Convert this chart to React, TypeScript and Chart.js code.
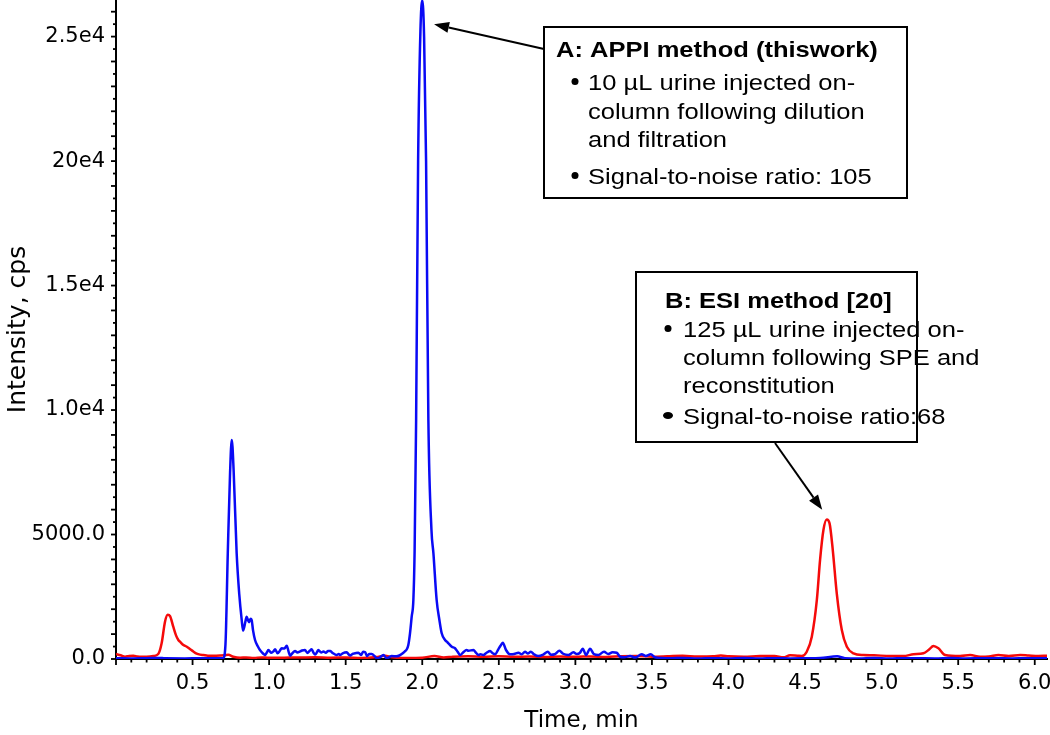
import React, { useEffect, useRef } from "react";
import { Chart, registerables } from "chart.js";

Chart.register(...registerables);

// ---- Data ----
const blueTime = [
  0.0, 0.1, 0.2, 0.28, 0.32, 0.45, 0.55, 0.65, 0.7, 0.715, 0.73, 0.745, 0.756, 0.768, 0.788, 0.805,
  0.821, 0.83, 0.845, 0.853, 0.862, 0.869, 0.879, 0.886, 0.895, 0.908, 0.925, 0.94, 0.96, 0.973,
  0.985, 0.995, 1.015, 1.03, 1.039, 1.055, 1.07, 1.082, 1.1, 1.115, 1.127, 1.137, 1.152, 1.169,
  1.185, 1.2, 1.215, 1.234, 1.25, 1.265, 1.278, 1.29, 1.3, 1.315, 1.321, 1.34, 1.355, 1.37, 1.385,
  1.398, 1.415, 1.441, 1.455, 1.463, 1.48, 1.507, 1.52, 1.53, 1.545, 1.561, 1.583, 1.6, 1.615,
  1.626, 1.64, 1.655, 1.67, 1.69, 1.703, 1.724, 1.746, 1.768, 1.79, 1.8, 1.83, 1.85, 1.866, 1.885,
  1.899, 1.909, 1.92, 1.931, 1.942, 1.95, 1.96, 1.973, 1.988, 2.0, 2.012, 2.025, 2.04, 2.06, 2.073,
  2.094, 2.112, 2.127, 2.149, 2.16, 2.171, 2.193, 2.214, 2.23, 2.247, 2.265, 2.29, 2.301, 2.334,
  2.35, 2.367, 2.38, 2.399, 2.42, 2.443, 2.46, 2.476, 2.497, 2.51, 2.526, 2.547, 2.573, 2.6, 2.628,
  2.65, 2.671, 2.69, 2.709, 2.73, 2.758, 2.79, 2.82, 2.84, 2.865, 2.896, 2.92, 2.954, 2.987, 3.01,
  3.03, 3.048, 3.07, 3.096, 3.12, 3.15, 3.187, 3.215, 3.243, 3.27, 3.292, 3.32, 3.357, 3.39, 3.433,
  3.46, 3.492, 3.52, 3.56, 3.62, 3.7, 3.8, 3.9, 4.0, 4.1, 4.2, 4.3, 4.4, 4.5, 4.6, 4.71, 4.76, 4.85,
  4.95, 5.05, 5.15, 5.25, 5.35, 5.45, 5.55, 5.65, 5.75, 5.85, 5.95, 6.08,
];
const blueIntensity = [
  30, 25, 35, 45, 30, 25, 35, 30, 40, 600, 4245, 7500, 8800, 7600, 4245, 2600,
  1566, 1140, 1500, 1700, 1560, 1480, 1620, 1566, 1150, 763, 520, 361, 220, 160,
  260, 361, 250, 320, 390, 230, 330, 430, 420, 534, 300, 133, 230, 321,
  260, 293, 340, 361, 240, 330, 390, 250, 180, 300, 361, 260, 300, 250, 320,
  321, 240, 160, 200, 160, 230, 269, 180, 140, 210, 229, 253, 160, 293,
  281, 120, 200, 200, 110, 28, 68, 160, 28, 92, 120, 110, 140, 200, 300,
  390, 562, 1032, 1700, 2370, 4300, 9600, 20000, 25200, 26450, 25000, 20000, 9600, 5200, 4245,
  2370, 1566, 1032, 763, 695, 630, 494, 430, 300, 160, 250, 361, 333, 361,
  260, 160, 189, 160, 250, 321, 230, 189, 390, 520, 655, 361, 189, 200, 253,
  190, 293, 220, 293, 190, 120, 180, 293, 170, 190, 333, 210, 160, 269, 200,
  250, 414, 160, 414, 200, 160, 293, 200, 269, 250, 92, 70, 120, 60, 189,
  120, 189, 68, 40, 30, 45, 20, 35, 25, 40, 20, 35, 25, 30, 40, 110, 35, 25,
  40, 20, 35, 30, 25, 40, 20, 30, 35, 25, 30, 30,
];

const redTime = [
  0.0, 0.03, 0.059, 0.085, 0.113, 0.14, 0.17, 0.2, 0.244, 0.276, 0.298, 0.32, 0.338, 0.353, 0.374,
  0.392, 0.407, 0.418, 0.44, 0.46, 0.483, 0.505, 0.527, 0.55, 0.57, 0.6, 0.636, 0.68, 0.71, 0.733,
  0.766, 0.81, 0.85, 0.9, 0.95, 1.0, 1.1, 1.2, 1.3, 1.4, 1.5, 1.6, 1.7, 1.757, 1.8, 1.9, 2.0, 2.08,
  2.14, 2.2, 2.3, 2.4, 2.5, 2.6, 2.7, 2.8, 2.9, 3.0, 3.1, 3.2, 3.3, 3.4, 3.5, 3.6, 3.7, 3.8, 3.9,
  3.95, 4.0, 4.1, 4.206, 4.3, 4.359, 4.402, 4.45, 4.479, 4.511, 4.544, 4.577, 4.598, 4.62, 4.642,
  4.66, 4.681, 4.707, 4.74, 4.773, 4.816, 4.881, 4.95, 5.055, 5.142, 5.208, 5.273, 5.31, 5.338,
  5.371, 5.415, 5.512, 5.578, 5.643, 5.7, 5.763, 5.83, 5.905, 5.96, 6.024, 6.08,
];
const redIntensity = [
  200, 150, 92, 120, 133, 100, 90, 92, 120, 200, 630, 1500, 1780, 1727, 1297,
  950, 763, 695, 562, 500, 400, 300, 215, 175, 160, 135, 133, 140, 150, 170,
  92, 52, 60, 45, 65, 50, 55, 60, 70, 55, 60, 45, 80, 133, 70, 40, 50, 120,
  60, 90, 110, 95, 110, 90, 100, 85, 100, 90, 105, 85, 110, 120, 95, 110, 130, 100, 110,
  140, 110, 90, 120, 120, 68, 148, 130, 120, 293, 896, 2370, 3980, 5180, 5600,
  5448, 4378, 2640, 1165, 494, 229, 160, 150, 120, 120, 189, 229, 380, 522,
  430, 160, 120, 160, 92, 100, 160, 120, 160, 140, 120, 130,
];

const xTickValues = [0.5, 1.0, 1.5, 2.0, 2.5, 3.0, 3.5, 4.0, 4.5, 5.0, 5.5, 6.0];
const yTickValues = [0, 5000, 10000, 15000, 20000, 25000];
const yTickLabels = ["0.0", "5000.0", "1.0e4", "1.5e4", "20e4", "2.5e4"];
const xTitle = "Time, min";
const yTitle = "Intensity, cps";

const boxATitle = "A: APPI method (thiswork)";
const boxABullets = [
  ["10 µL urine injected on-", "column following dilution", "and filtration"],
  ["Signal-to-noise ratio: 105"],
];
const boxBTitle = "B: ESI method [20]";
const boxBBullets = [
  ["125 µL urine injected on-", "column following SPE and", "reconstitution"],
  ["Signal-to-noise ratio:68"],
];

const TEXT_FONT = '"Liberation Sans", Arial, sans-serif';
const TEXT_STRETCH = 1.16;

function drawStretched(ctx: CanvasRenderingContext2D, text: string, x: number, y: number) {
  ctx.save();
  ctx.translate(x, y);
  ctx.scale(TEXT_STRETCH, 1);
  ctx.fillText(text, 0, 0);
  ctx.restore();
}

function drawArrow(ctx: CanvasRenderingContext2D, x1: number, y1: number, x2: number, y2: number) {
  const ang = Math.atan2(y2 - y1, x2 - x1);
  const len = 15;
  const hw = 5.5;
  const bx = x2 - len * Math.cos(ang);
  const by = y2 - len * Math.sin(ang);
  ctx.beginPath();
  ctx.moveTo(x1, y1);
  ctx.lineTo(bx, by);
  ctx.stroke();
  ctx.beginPath();
  ctx.moveTo(x2, y2);
  ctx.lineTo(bx - hw * Math.sin(ang), by + hw * Math.cos(ang));
  ctx.lineTo(bx + hw * Math.sin(ang), by - hw * Math.cos(ang));
  ctx.closePath();
  ctx.fill();
}

export default function App() {
  const ref = useRef<HTMLCanvasElement>(null);

  useEffect(() => {
    document.body.style.margin = "0";
    const canvas = ref.current!;
    const ctx = canvas.getContext("2d")!;

    const tickPlugin = {
      id: "minorTicks",
      afterDraw(chart: any) {
        const c = chart.ctx as CanvasRenderingContext2D;
        const xs = chart.scales.x;
        const ys = chart.scales.y;
        const { left, right, bottom } = chart.chartArea;
        c.save();
        c.strokeStyle = "#000";
        c.lineWidth = 1.8;
        for (let i = 0; i <= 61; i++) {
          const px = xs.getPixelForValue(i / 10);
          if (px > right + 0.5) break;
          const l = i % 5 === 0 ? 6 : 3.5;
          c.beginPath();
          c.moveTo(px, bottom);
          c.lineTo(px, bottom + l);
          c.stroke();
        }
        for (let i = 0; i <= 60; i++) {
          const v = i * 500;
          if (v > ys.max) break;
          const py = ys.getPixelForValue(v);
          const l = i % 2 === 0 ? 5 : 3;
          c.beginPath();
          c.moveTo(left - l, py);
          c.lineTo(left, py);
          c.stroke();
        }
        c.restore();
      },
    };

    const annotPlugin = {
      id: "annotations",
      afterDraw(chart: any) {
        const c = chart.ctx as CanvasRenderingContext2D;
        const xs = chart.scales.x;
        const ys = chart.scales.y;
        c.save();
        c.strokeStyle = "#000";
        c.fillStyle = "#000";
        c.lineWidth = 2;

        // Box A
        c.fillStyle = "#fff";
        c.fillRect(544, 27, 363, 171);
        c.fillStyle = "#000";
        c.strokeRect(544, 27, 363, 171);
        c.textBaseline = "alphabetic";
        c.textAlign = "left";
        c.font = `bold 22px ${TEXT_FONT}`;
        drawStretched(c, boxATitle, 556, 57);
        c.font = `22px ${TEXT_FONT}`;
        const aBase = [[89.5, 118.5, 147], [183.5]];
        boxABullets.forEach((lines, bi) => {
          c.beginPath();
          c.arc(575, aBase[bi][0] - 8, 3.5, 0, Math.PI * 2);
          c.fill();
          lines.forEach((t, li) => drawStretched(c, t, 588, aBase[bi][li]));
        });

        // Box B
        c.fillStyle = "#fff";
        c.fillRect(636, 272, 281, 170);
        c.fillStyle = "#000";
        c.strokeRect(636, 272, 281, 170);
        c.font = `bold 22px ${TEXT_FONT}`;
        drawStretched(c, boxBTitle, 665, 307.5);
        c.font = `22px ${TEXT_FONT}`;
        const bBase = [[336.5, 365, 392.5], [423.5]];
        boxBBullets.forEach((lines, bi) => {
          c.beginPath();
          if (bi === 0) c.arc(668, bBase[bi][0] - 8, 3.5, 0, Math.PI * 2);
          else c.ellipse(668, bBase[bi][0] - 8, 5, 3.5, 0, 0, Math.PI * 2);
          c.fill();
          lines.forEach((t, li) => drawStretched(c, t, 683, bBase[bi][li]));
        });

        // Arrows pointing at the peaks
        drawArrow(c, 544, 49, xs.getPixelForValue(2.077), ys.getPixelForValue(25500));
        drawArrow(c, 775, 443, xs.getPixelForValue(4.612), ys.getPixelForValue(5990));
        c.restore();
      },
    };

    const chart = new Chart(ctx, {
      type: "line",
      data: {
        datasets: [
          {
            label: "APPI",
            data: blueTime.map((t, i) => ({ x: t, y: blueIntensity[i] })),
            borderColor: "#0a0af5",
            borderWidth: 2.5,
            pointRadius: 0,
            cubicInterpolationMode: "monotone",
            fill: false,
          },
          {
            label: "ESI",
            data: redTime.map((t, i) => ({ x: t, y: redIntensity[i] })),
            borderColor: "#f50a0a",
            borderWidth: 2.5,
            pointRadius: 0,
            cubicInterpolationMode: "monotone",
            fill: false,
          },
        ],
      },
      options: {
        responsive: false,
        animation: false,
        layout: { padding: { top: 0, right: 3, left: 0, bottom: 0 } },
        plugins: { legend: { display: false }, tooltip: { enabled: false } },
        scales: {
          x: {
            type: "linear",
            bounds: "data",
            min: 0,
            max: 6.08,
            afterBuildTicks: (s: any) => {
              s.ticks = xTickValues.map((v) => ({ value: v }));
            },
            afterFit: (s: any) => {
              s.height = 76;
              s.paddingLeft = 0;
              s.paddingRight = 0;
            },
            grid: { display: false, drawTicks: false },
            border: { display: true, color: "#000", width: 2 },
            ticks: {
              autoSkip: false,
              maxRotation: 0,
              padding: 12,
              color: "#000",
              font: { family: "DejaVu Sans", size: 21 },
              callback: (v: any) => Number(v).toFixed(1),
            },
            title: {
              display: true,
              text: xTitle,
              color: "#000",
              font: { family: "DejaVu Sans", size: 23 },
              padding: { top: 0, bottom: 0 },
            },
          },
          y: {
            type: "linear",
            bounds: "data",
            min: 0,
            max: 26470,
            afterBuildTicks: (s: any) => {
              s.ticks = yTickValues.map((v) => ({ value: v }));
            },
            afterFit: (s: any) => {
              s.width = 116;
              s.paddingTop = 0;
              s.paddingBottom = 0;
            },
            grid: { display: false, drawTicks: false },
            border: { display: true, color: "#000", width: 2 },
            ticks: {
              autoSkip: false,
              padding: 11,
              color: "#000",
              font: { family: "DejaVu Sans", size: 21 },
              callback: (v: any, i: number) => yTickLabels[i] ?? "",
            },
            title: {
              display: true,
              text: yTitle,
              color: "#000",
              font: { family: "DejaVu Sans", size: 25 },
              padding: { top: 3, bottom: 0 },
            },
          },
        },
      },
      plugins: [tickPlugin, annotPlugin],
    });

    return () => chart.destroy();
  }, []);

  return (
    <div style={{ position: "absolute", left: 0, top: 0, width: 1050, height: 735, background: "#fff" }}>
      <canvas ref={ref} width={1050} height={735} style={{ display: "block" }} />
    </div>
  );
}
